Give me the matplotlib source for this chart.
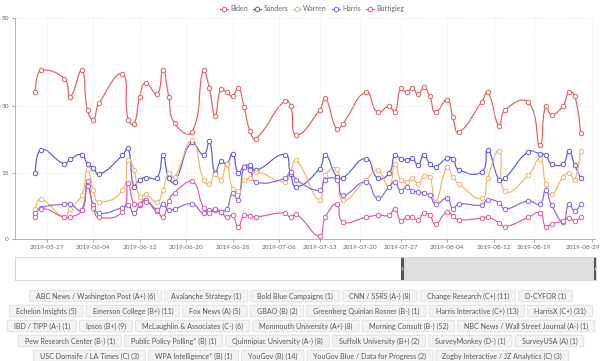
import matplotlib
matplotlib.use("Agg")
import matplotlib.pyplot as plt
import matplotlib.dates as mdates
import numpy as np
import pandas as pd
from matplotlib.path import Path
from matplotlib.patches import PathPatch, FancyBboxPatch
from matplotlib.lines import Line2D
from matplotlib.transforms import IdentityTransform, ScaledTranslation

plt.rcParams['font.family'] = ['Lato', 'DejaVu Sans']

dates = ['2019-05-25', '2019-05-26', '2019-05-30', '2019-05-31', '2019-06-02', '2019-06-03',
         '2019-06-04', '2019-06-05', '2019-06-09', '2019-06-10', '2019-06-11', '2019-06-12',
         '2019-06-13', '2019-06-15', '2019-06-16', '2019-06-17', '2019-06-18', '2019-06-21',
         '2019-06-23', '2019-06-24', '2019-06-25', '2019-06-26', '2019-06-27', '2019-06-28',
         '2019-06-29', '2019-06-30', '2019-07-01', '2019-07-02', '2019-07-07', '2019-07-08',
         '2019-07-09', '2019-07-13', '2019-07-14', '2019-07-16', '2019-07-17', '2019-07-21',
         '2019-07-23', '2019-07-25', '2019-07-26', '2019-07-27', '2019-07-28', '2019-07-29',
         '2019-07-30', '2019-07-31', '2019-08-01', '2019-08-02', '2019-08-04', '2019-08-05',
         '2019-08-06', '2019-08-10', '2019-08-11', '2019-08-13', '2019-08-14', '2019-08-18',
         '2019-08-20', '2019-08-21', '2019-08-22', '2019-08-24', '2019-08-25', '2019-08-26',
         '2019-08-27']

biden = [33.2, 38.3, 36.3, 32.2, 38.2, 29.1, 27.0, 30.7, 37.3, 27.0,
         26.0, 32.2, 35.3, 32.8, 38.3, 32.2, 26.2, 24.2, 38.3, 34.2,
         27.9, 33.9, 33.2, 32.3, 34.2, 29.8, 24.5, 22.7, 31.3, 30.2,
         23.6, 29.1, 31.8, 24.8, 26.0, 33.2, 28.7, 30.0, 28.7, 34.1,
         33.2, 34.2, 32.7, 34.3, 32.3, 28.7, 31.5, 27.5, 24.2, 31.1,
         33.2, 25.5, 29.2, 30.9, 21.2, 30.2, 28.1, 30.2, 33.2, 32.4, 24.0]
sanders = [14.9, 20.2, 17.0, 18.0, 19.1, 17.0, 16.1, 14.6, 18.9, 20.6,
           11.8, 13.4, 13.9, 13.9, 19.1, 13.8, 12.9, 21.9, 19.1, 22.1,
           14.9, 17.6, 17.0, 19.3, 14.9, 16.4, 16.7, 15.5, 19.1, 14.8,
           11.8, 15.9, 19.1, 14.0, 13.8, 18.2, 13.8, 14.9, 18.9, 18.2,
           17.9, 18.3, 16.7, 19.1, 17.0, 16.4, 18.3, 18.2, 15.7, 15.2,
           20.2, 13.3, 13.8, 19.7, 19.3, 18.9, 17.0, 17.0, 19.9, 16.7, 13.9]
warren = [6.9, 9.0, 4.9, 6.9, 9.9, 15.9, 11.0, 8.4, 11.0, 17.9,
          15.7, 9.5, 10.1, 8.4, 11.0, 14.9, 14.0, 22.3, 13.3, 12.5,
          14.8, 13.3, 17.0, 11.4, 10.8, 13.4, 13.7, 15.2, 12.9, 15.2,
          17.8, 8.8, 14.4, 15.9, 8.8, 13.3, 15.5, 11.8, 17.0, 13.3,
          12.9, 13.7, 12.5, 14.2, 14.0, 8.4, 16.3, 14.0, 12.5, 9.2,
          13.8, 20.0, 10.8, 14.4, 18.2, 12.5, 10.1, 14.0, 14.9, 13.4, 20.0]
harris = [5.9, 7.1, 7.9, 7.9, 6.5, 11.9, 7.7, 5.8, 7.1, 7.7,
          5.8, 7.7, 8.9, 6.3, 7.9, 6.5, 6.8, 7.9, 5.8, 6.5,
          6.5, 6.2, 6.8, 10.3, 8.8, 16.3, 15.7, 12.9, 13.7, 15.2,
          13.4, 11.0, 13.4, 13.4, 9.9, 12.9, 9.2, 11.8, 12.9, 10.9,
          11.8, 10.9, 10.7, 10.3, 9.9, 7.9, 9.2, 6.9, 7.9, 7.7,
          8.9, 8.2, 6.8, 8.6, 7.9, 11.0, 7.7, 3.9, 7.9, 6.4, 7.9]
buttigieg = [4.9, 6.9, 4.9, 4.9, 6.5, 13.1, 7.1, 4.9, 6.2, 12.7,
             8.0, 8.0, 8.4, 6.5, 4.9, 8.5, 10.5, 13.1, 7.1, 5.9,
             6.7, 6.2, 4.9, 5.4, 2.8, 5.4, 5.2, 5.0, 5.9, 4.9,
             5.6, 0.7, 4.9, 7.9, 3.9, 4.9, 5.4, 5.4, 6.9, 4.1,
             4.9, 4.9, 4.4, 5.9, 5.4, 3.4, 6.2, 5.2, 4.4, 4.7,
             4.9, 3.7, 2.8, 4.9, 5.9, 2.8, 3.4, 4.1, 4.7, 4.1, 4.9]

names = ['Biden', 'Sanders', 'Warren', 'Harris', 'Buttigieg']
series = [biden, sanders, warren, harris, buttigieg]
colors = ['#e0605f', '#5a58d8', '#f0b469', '#8a62e6', '#de5a9e']

x_ticks = ['2019-05-27', '2019-06-04', '2019-06-12', '2019-06-20', '2019-06-28', '2019-07-06',
           '2019-07-13', '2019-07-20', '2019-07-27', '2019-08-04', '2019-08-12', '2019-08-19',
           '2019-08-29']
y_ticks = [0, 15, 30, 50]
zoom_start = '2019-07-27'

pollsters = [
    ['ABC News / Washington Post (A+) (6)', 'Avalanche Strategy (1)', 'Bold Blue Campaigns (1)',
     'CNN / SSRS (A-) (8)', 'Change Research (C+) (11)', 'D-CYFOR (1)'],
    ['Echelon Insights (5)', 'Emerson College (B+) (11)', 'Fox News (A) (5)', 'GBAO (B) (2)',
     'Greenberg Quinlan Rosner (B-) (1)', 'Harris Interactive (C+) (13)', 'HarrisX (C+) (31)'],
    ['IBD / TIPP (A-) (1)', 'Ipsos (B+) (9)', 'McLaughlin & Associates (C-) (6)',
     'Monmouth University (A+) (8)', 'Morning Consult (B-) (52)',
     'NBC News / Wall Street Journal (A-) (1)'],
    ['Pew Research Center (B-) (1)', 'Public Policy Polling* (B) (1)',
     'Quinnipiac University (A-) (8)', 'Suffolk University (B+) (2)', 'SurveyMonkey (D-) (1)',
     'SurveyUSA (A) (1)'],
    ['USC Dornsife / LA Times (C) (3)', 'WPA Intelligence* (B) (1)', 'YouGov (B) (14)',
     'YouGov Blue / Data for Progress (2)', 'Zogby Interactive / JZ Analytics (C) (3)'],
]


def smooth_path(ax, xs, ys, smooth=0.5):
    # echarts-like bezier smoothing, done in pixel space
    pts = ax.transData.transform(np.column_stack([xs, ys]))
    lo, hi = pts.min(axis=0), pts.max(axis=0)
    n = len(pts)
    before, after = pts.copy(), pts.copy()
    for i in range(1, n - 1):
        p, prev, nxt = pts[i], pts[i - 1], pts[i + 1]
        v = nxt - prev
        d0 = np.hypot(*(p - prev))
        d1 = np.hypot(*(nxt - p))
        r = d1 / (d0 + d1) if d0 + d1 > 0 else 0.5
        before[i] = np.clip(p - v * smooth * (1 - r), lo, hi)
        after[i] = np.clip(p + v * smooth * r, lo, hi)
    verts = [pts[0]]
    codes = [Path.MOVETO]
    for i in range(1, n):
        verts += [after[i - 1], before[i], pts[i]]
        codes += [Path.CURVE4] * 3
    verts = ax.transData.inverted().transform(np.array(verts))
    return Path(verts, codes)


W, H = 600, 361
fig = plt.figure(figsize=(W / 100, H / 100), dpi=100)
ax = fig.add_axes([15 / W, 1 - 239 / H, 580 / W, 221 / H])

xd = mdates.date2num(pd.to_datetime(dates))
xmin = mdates.date2num(pd.Timestamp('2019-05-21 12:00'))
xmax = mdates.date2num(pd.Timestamp('2019-08-29 12:00'))
ax.set_xlim(xmin, xmax)
ax.set_ylim(0, 50)

for name, vals, c in zip(names, series, colors):
    path = smooth_path(ax, xd, vals)
    ax.add_patch(PathPatch(path, facecolor='none', edgecolor=c, lw=0.85))
    ax.plot(xd, vals, 'o', ls='none', mfc='white', mec=c, ms=3.2, mew=0.7)

tick_x = mdates.date2num(pd.to_datetime(x_ticks))
ax.set_xticks(tick_x)
ax.set_xticklabels(x_ticks)
ax.set_yticks(y_ticks)
ax.tick_params(axis='both', labelsize=4.6, colors='#888888', labelcolor='#666666',
               length=2.5, width=0.5, pad=2)
last = ax.get_xticklabels()[-1]
last.set_transform(last.get_transform() + ScaledTranslation(-9 / 100, 0, fig.dpi_scale_trans))
ax.grid(True, color='#dddddd', ls=(0, (1, 2)), lw=0.6)
for s in ['top', 'right']:
    ax.spines[s].set_visible(False)
for s in ['left', 'bottom']:
    ax.spines[s].set_color('#aaaaaa')
    ax.spines[s].set_linewidth(0.6)

handles = [Line2D([], [], color=c, marker='o', mfc='white', mec=c, ms=3.2, mew=0.7, lw=0.9)
           for c in colors]
fig.legend(handles, names, loc='center', bbox_to_anchor=(312 / W, 1 - 8.5 / H), ncol=5,
           frameon=False, fontsize=5, handlelength=1.2, handletextpad=0.3,
           columnspacing=0.7, labelcolor='#666666')

# data zoom slider
ax2 = fig.add_axes([15 / W, 1 - 280 / H, 581 / W, 23 / H])
ax2.set_xlim(xmin, xmax)
ax2.set_ylim(0, 1)
ax2.set_xticks([])
ax2.set_yticks([])
for s in ax2.spines.values():
    s.set_color('#d0d0d0')
    s.set_linewidth(0.6)
zs = mdates.date2num(pd.Timestamp(zoom_start))
ax2.axvspan(zs, xmax, color='#dedede', lw=0)
for hx in [zs + 0.15, xmax - 0.2]:
    ax2.plot([hx, hx], [0, 1], color='#555555', lw=2.2, solid_capstyle='butt')
    ax2.plot([hx, hx], [0.42, 0.58], color='#bbbbbb', lw=1.0, solid_capstyle='butt')

# pollster buttons
renderer = fig.canvas.get_renderer()
pad, gap, bh = 6.5, 3.0, 11.5
for r, row in enumerate(pollsters):
    yc = 296 + 15 * r
    texts, widths = [], []
    for label in row:
        t = fig.text(0, 0, label, fontsize=5.1, color='#555555', ha='center', va='center',
                     transform=IdentityTransform())
        texts.append(t)
        widths.append(t.get_window_extent(renderer).width)
    total = sum(w + 2 * pad for w in widths) + gap * (len(row) - 1)
    x0 = 301 - total / 2
    for t, w in zip(texts, widths):
        bw = w + 2 * pad
        box = FancyBboxPatch((x0, H - yc - bh / 2), bw, bh,
                             boxstyle='round,pad=0,rounding_size=1.5',
                             facecolor='#f3f3f3', edgecolor='#dddddd', lw=0.6,
                             transform=IdentityTransform())
        fig.add_artist(box)
        t.set_position((x0 + bw / 2, H - yc))
        t.set_zorder(3)
        x0 += bw + gap

fig.savefig('out.png', dpi=100)
